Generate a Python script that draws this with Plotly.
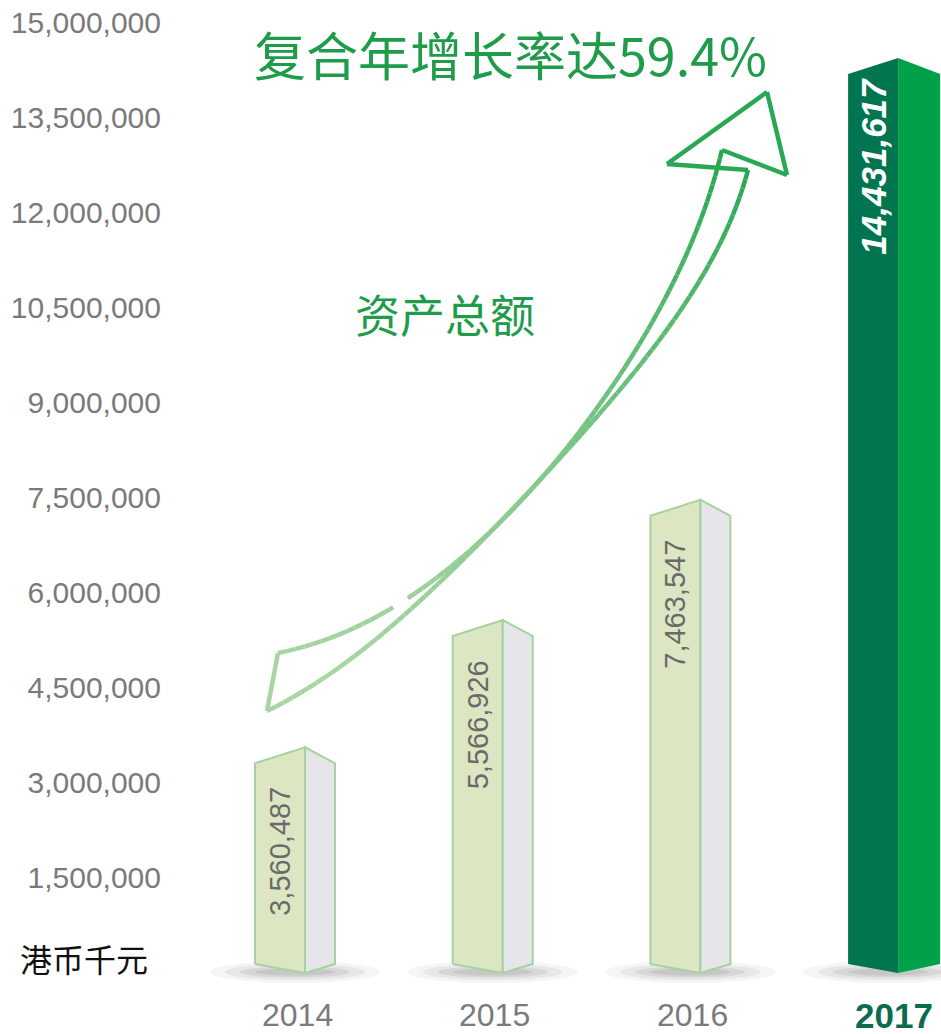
import numpy as np
import plotly.graph_objects as go

# ---------------- data ----------------
years = ["2014", "2015", "2016", "2017"]
assets = [3560487, 5566926, 7463547, 14431617]
value_labels = ["3,560,487", "5,566,926", "7,463,547", "14,431,617"]
y_tickvals = [1500000, 3000000, 4500000, 6000000, 7500000, 9000000,
              10500000, 12000000, 13500000, 15000000]
y_ticktext = ["1,500,000", "3,000,000", "4,500,000", "6,000,000", "7,500,000",
              "9,000,000", "10,500,000", "12,000,000", "13,500,000", "15,000,000"]
title_text = "复合年增长率达59.4%"
arrow_label = "资产总额"
unit_label = "港币千元"

# ---------------- geometry / style ----------------
W, H = 941, 1034
L, R, T, B = 170, 0, 22, 61
PW, PH = W - L - R, H - T - B
YMAX = 15000000
UNIT_PX = 197.7                      # px per category step
X0 = -(305 - L) / UNIT_PX            # x range start
XR = [X0, X0 + PW / UNIT_PX]
PXV = YMAX / PH                      # value units per pixel

def px(x):
    return (x - L) / PW

def py(y):
    return (H - B - y) / PH

FW = 50 / UNIT_PX                    # front face width
dT = 16 * PXV                        # top corner drop
dB = 9 * PXV                         # bottom corner rise

fig = go.Figure()

# shadows under bars
shapes = []
for i, _ in enumerate(years):
    cx = L + (i - XR[0]) * UNIT_PX - 10
    for (w, h, op) in [(170, 22, 0.05), (140, 16, 0.07), (110, 11, 0.09), (80, 7, 0.10)]:
        shapes.append(dict(type="circle", xref="paper", yref="paper",
                           x0=px(cx - w / 2), x1=px(cx + w / 2),
                           y0=py(972 + h / 2), y1=py(972 - h / 2),
                           fillcolor=f"rgba(60,60,60,{op})", line=dict(width=0),
                           layer="below"))

# bars as 3D prisms
for i, (yr, v) in enumerate(zip(years, assets)):
    hi = (i == len(years) - 1)
    sw = (42 if hi else 30) / UNIT_PX
    front_x = [i - FW, i, i, i - FW, i - FW]
    front_y = [dB, 0, v, v - dT, dB]
    side_x = [i, i + sw, i + sw, i, i]
    side_y = [0, dB, v - dT, v, 0]
    if hi:
        fc, sc, lc, lw = "#007550", "#00a149", "rgba(0,0,0,0)", 0
    else:
        fc, sc, lc, lw = "#dde6c3", "#e6e6ea", "#a4d39d", 2
    fig.add_trace(go.Scatter(x=front_x, y=front_y, fill="toself", fillcolor=fc,
                             mode="lines", line=dict(color=lc, width=lw),
                             hoverinfo="skip", showlegend=False))
    fig.add_trace(go.Scatter(x=side_x, y=side_y, fill="toself", fillcolor=sc,
                             mode="lines", line=dict(color=lc, width=lw),
                             hoverinfo="skip", showlegend=False))

annotations = []
for i, (yr, v, lab) in enumerate(zip(years, assets, value_labels)):
    hi = (i == len(years) - 1)
    if hi:
        annotations.append(dict(x=i - FW / 2, y=v - dT - 2 * PXV, xref="x", yref="y",
                                text=f"<b><i>{lab}</i></b>", textangle=-90, showarrow=False,
                                yanchor="top", xanchor="center",
                                font=dict(family="Liberation Sans, Arial", size=35, color="white")))
        annotations.append(dict(x=i - 0.02, y=py(1015), xref="x", yref="paper",
                                text=f"<b>{yr}</b>", showarrow=False,
                                xanchor="center", yanchor="middle",
                                font=dict(family="Liberation Sans, Arial", size=35, color="#0d6b50")))
    else:
        annotations.append(dict(x=i - FW / 2, y=v - dT - 22 * PXV, xref="x", yref="y",
                                text=lab, textangle=-90, showarrow=False,
                                yanchor="top", xanchor="center",
                                font=dict(family="Liberation Sans, Arial", size=29, color="#6a6a6a")))
        annotations.append(dict(x=i - 0.04, y=py(1015), xref="x", yref="paper",
                                text=yr, showarrow=False,
                                xanchor="center", yanchor="middle",
                                font=dict(family="Liberation Sans, Arial", size=32, color="#7a7a7a")))

annotations.append(dict(x=px(510), y=py(53), xref="paper", yref="paper", text=title_text,
                        xanchor="center", yanchor="middle", showarrow=False,
                        font=dict(family="Noto Sans CJK SC", size=52, color="#1f9c4a")))
annotations.append(dict(x=px(445), y=py(313), xref="paper", yref="paper", text=arrow_label,
                        xanchor="center", yanchor="middle", showarrow=False,
                        font=dict(family="Noto Sans CJK SC", size=45, color="#1f9c4a")))
annotations.append(dict(x=px(18), y=py(958), xref="paper", yref="paper", text=unit_label,
                        xanchor="left", yanchor="middle", showarrow=False,
                        font=dict(family="Noto Sans CJK SC", size=32, color="#111111")))

# ---------------- decorative ribbon arrow ----------------
def smooth(pts, deg=4, n=80):
    P = np.array(pts, dtype=float)
    s = np.concatenate([[0], np.cumsum(np.hypot(*np.diff(P, axis=0).T))])
    s = s / s[-1]
    w = np.ones(len(P)); w[0] = w[-1] = 20
    fx = np.polyfit(s, P[:, 0], deg, w=w)
    fy = np.polyfit(s, P[:, 1], deg, w=w)
    ss = np.linspace(0, 1, n)
    return list(zip(np.polyval(fx, ss), np.polyval(fy, ss)))

guideA = [(278, 653), (327, 640), (395, 603), (460, 562), (495, 530), (535, 484),
          (587, 417), (655, 322), (705, 205), (722, 150)]
guideB = [(267, 711), (327, 670), (393, 627), (445, 581), (493, 532), (533, 485),
          (589, 418), (672, 332), (720, 238), (748, 170)]
curveA = smooth(guideA)
curveB = smooth(guideB)
head = [curveA[-1], (787, 175), (767, 92), (667, 164), curveB[-1]]

segments = []
for k in range(len(curveA) - 1):
    a, b = curveA[k], curveA[k + 1]
    if 396 <= (a[0] + b[0]) / 2 <= 411:
        continue
    segments.append((a, b))
segments += [(curveB[k], curveB[k + 1]) for k in range(len(curveB) - 1)]
segments += [(head[k], head[k + 1]) for k in range(len(head) - 1)]
segments.append((curveB[0], curveA[0]))

c_lo = (170, 214, 164)
c_hi = (40, 168, 82)
for (a, b) in segments:
    ym = (a[1] + b[1]) / 2
    t = min(1, max(0, (700 - ym) / (700 - 170)))
    t = t ** 1.4
    col = tuple(int(c_lo[j] + (c_hi[j] - c_lo[j]) * t) for j in range(3))
    shapes.append(dict(type="line", xref="paper", yref="paper",
                       x0=px(a[0]), y0=py(a[1]), x1=px(b[0]), y1=py(b[1]),
                       line=dict(color=f"rgb{col}", width=4.5), layer="above"))

fig.update_layout(
    width=W, height=H,
    margin=dict(l=L, r=R, t=T, b=B, pad=0),
    paper_bgcolor="white", plot_bgcolor="white",
    xaxis=dict(range=XR, visible=False, fixedrange=True),
    yaxis=dict(range=[0, YMAX], tickvals=y_tickvals, ticktext=y_ticktext,
               showgrid=False, zeroline=False, showline=False, ticks="",
               ticklabelstandoff=8, fixedrange=True,
               tickfont=dict(family="Liberation Sans, Arial", size=30, color="#7a7a7a")),
    shapes=shapes,
    annotations=annotations,
    showlegend=False,
)

fig.write_html("out.html", config={"displayModeBar": False},
               post_script="document.body.style.margin='0px';")
